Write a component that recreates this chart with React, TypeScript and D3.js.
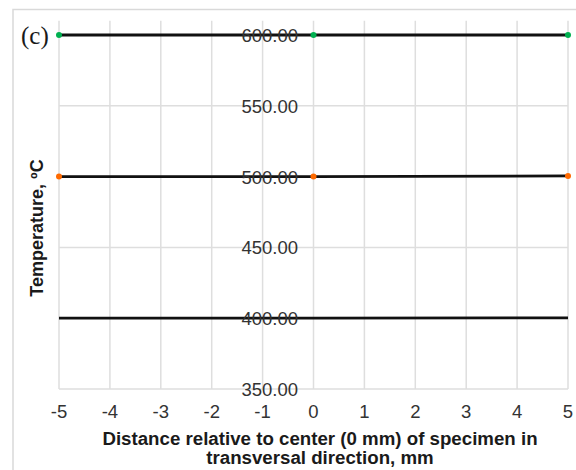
import React from "react";
import * as d3 from "d3";

const xPositions = [-5, 0, 5];
const temp600 = [600, 600, 600];
const temp500 = [500, 500, 500.5];
const temp400 = [400, 400, 400.3];
const seriesNames = ["600 °C", "500 °C", "400 °C"];
const markerColors = ["#00b050", "#ff6a00", null];
const xTicks = [-5, -4, -3, -2, -1, 0, 1, 2, 3, 4, 5];
const yTicks = [350, 400, 450, 500, 550, 600];
const yTop = 610;

const W = 576;
const H = 470;

export default function App() {
  const x = d3.scaleLinear().domain([-5, 5]).range([59, 568]);
  const y = d3.scaleLinear().domain([350, 600]).range([389, 35]);
  const allSeries = [temp600, temp500, temp400];
  const line = d3
    .line<[number, number]>()
    .x((d) => x(d[0]))
    .y((d) => y(d[1]));
  const font = "'Liberation Sans', Arial, sans-serif";
  const grid = "#dedede";
  return (
    <div style={{ position: "absolute", left: 0, top: 0 }}>
      <svg width={W} height={H} style={{ display: "block", background: "#fff" }}>
        <rect x={13} y={9.5} width={W} height={H} fill="#fff" stroke="#d9d9d9" strokeWidth={1.5} />
        {xTicks.map((t) => (
          <line key={"vx" + t} x1={x(t)} x2={x(t)} y1={y(yTop)} y2={y(350)} stroke={grid} strokeWidth={1.5} />
        ))}
        {yTicks.map((t) => (
          <line key={"hy" + t} x1={x(-5)} x2={x(5)} y1={y(t)} y2={y(t)} stroke={grid} strokeWidth={1.5} />
        ))}
        {allSeries.map((s, i) => (
          <path
            key={"l" + i}
            d={line(s.map((v, j) => [xPositions[j], v] as [number, number])) || ""}
            fill="none"
            stroke="#111"
            strokeWidth={2.8}
          >
            <title>{seriesNames[i]}</title>
          </path>
        ))}
        {allSeries.map((s, i) =>
          markerColors[i]
            ? s.map((v, j) => (
                <circle key={"m" + i + "-" + j} cx={x(xPositions[j])} cy={y(v)} r={3} fill={markerColors[i] as string} />
              ))
            : null
        )}
        {yTicks.map((t) => (
          <text
            key={"yl" + t}
            x={298}
            y={y(t) + 7}
            textAnchor="end"
            fontFamily={font}
            fontSize={18.5}
            fill="#333"
          >
            {d3.format(".2f")(t)}
          </text>
        ))}
        {xTicks.map((t) => (
          <text
            key={"xl" + t}
            x={x(t)}
            y={418}
            textAnchor="middle"
            fontFamily={font}
            fontSize={18.5}
            fill="#333"
          >
            {t}
          </text>
        ))}
        <text x={320} y={445} textAnchor="middle" fontFamily={font} fontSize={18.7} fontWeight="bold" fill="#1a1a1a">
          Distance relative to center (0 mm) of specimen in
        </text>
        <text x={320} y={464} textAnchor="middle" fontFamily={font} fontSize={18.7} fontWeight="bold" fill="#1a1a1a">
          transversal direction, mm
        </text>
        <text
          transform="translate(43,228) rotate(-90)"
          textAnchor="middle"
          fontFamily={font}
          fontSize={18}
          fontWeight="bold"
          fill="#1a1a1a"
        >
          Temperature, ºC
        </text>
        <text x={21} y={43.5} fontFamily="'Liberation Serif', 'Times New Roman', serif" fontSize={25} fill="#1a1a1a">
          (c)
        </text>
      </svg>
    </div>
  );
}
